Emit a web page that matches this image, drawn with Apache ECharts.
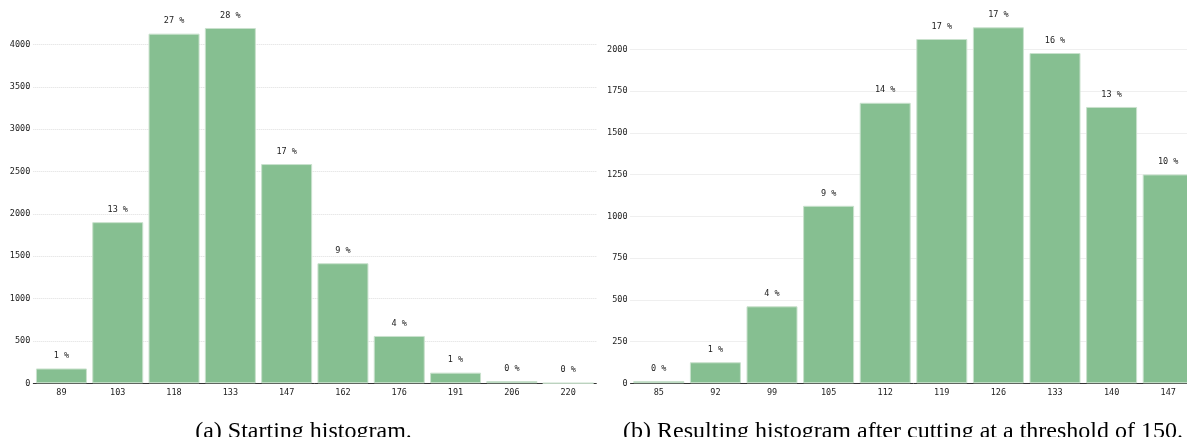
<!DOCTYPE html>
<html>
<head>
<meta charset="utf-8">
<script src="https://cdn.jsdelivr.net/npm/echarts@6/dist/echarts.min.js"></script>
<style>
  html, body { margin: 0; padding: 0; background: #fff; overflow: hidden; width: 1187px; height: 437px; }
  /* the canvas runs a little past the right edge so the last bin is cut like the figure */
  #chart { width: 1210px; height: 437px; }
</style>
</head>
<body>
<div id="chart"></div>
<script>
// Histogram (a): starting distribution
const binsA = ['89', '103', '118', '133', '147', '162', '176', '191', '206', '220'];
const countsA = [175, 1903, 4129, 4196, 2589, 1418, 559, 126, 27, 2];

// Histogram (b): after cutting at a threshold of 150
const binsB = ['85', '92', '99', '105', '112', '119', '126', '133', '140', '147'];
const countsB = [14, 126, 461, 1063, 1680, 2062, 2132, 1978, 1655, 1251];

// Value-axis steps
const stepA = 500;
const stepB = 250;

const captions = ['(a) Starting histogram.', '(b) Resulting histogram after cutting at a threshold of 150.'];

const mono = 'DejaVu Sans Mono';
const barColor = '#86bf91';

function percentLabel(values) {
  const total = values.reduce((s, v) => s + v, 0);
  return p => Math.round(p.value / total * 100) + ' %';
}

function xAxisFor(cats, gridIndex) {
  return {
    type: 'category', gridIndex, data: cats,
    axisLine: { lineStyle: { color: '#333', width: 1 } },
    axisTick: { alignWithLabel: true, length: 3, lineStyle: { color: '#333' } },
    axisLabel: { fontFamily: mono, fontSize: 8.5, color: '#222', margin: 5 }
  };
}

function yAxisFor(max, step, gridIndex) {
  return {
    type: 'value', gridIndex, min: 0, max, interval: step,
    axisLine: { show: false }, axisTick: { show: false },
    axisLabel: {
      fontFamily: mono, fontSize: 8.5, color: '#222', margin: 3, showMaxLabel: false,
      formatter: v => String(v)
    },
    splitLine: { showMaxLine: false, lineStyle: { color: '#dedede', type: 'dotted', width: 1 } }
  };
}

function barSeries(values, idx) {
  return {
    type: 'bar', xAxisIndex: idx, yAxisIndex: idx, data: values,
    barWidth: 51,
    itemStyle: { color: barColor, borderColor: '#c9e1cd', borderWidth: 1 },
    label: {
      show: true, position: 'top', distance: 8,
      fontFamily: mono, fontSize: 8.5, color: '#222',
      formatter: percentLabel(values)
    },
    silent: true
  };
}

const chart = echarts.init(document.getElementById('chart'), null, { renderer: 'canvas' });
chart.setOption({
  animation: false,
  backgroundColor: '#fff',
  grid: [
    { left: 33.3, width: 563, top: 10.7, bottom: 53.7 },
    { left: 630.5, width: 566, top: 7.6, bottom: 53.7 }
  ],
  xAxis: [xAxisFor(binsA, 0), xAxisFor(binsB, 1)],
  yAxis: [yAxisFor(4400, stepA, 0), yAxisFor(2250, stepB, 1)],
  series: [barSeries(countsA, 0), barSeries(countsB, 1)],
  graphic: [
    { type: 'text', x: 303.5, y: 444, style: { text: captions[0], font: '24px "Liberation Serif"', fill: '#000', textAlign: 'center', textVerticalAlign: 'bottom' } },
    { type: 'text', x: 903, y: 444, style: { text: captions[1], font: '24px "Liberation Serif"', fill: '#000', textAlign: 'center', textVerticalAlign: 'bottom' } }
  ]
});
</script>
</body>
</html>
